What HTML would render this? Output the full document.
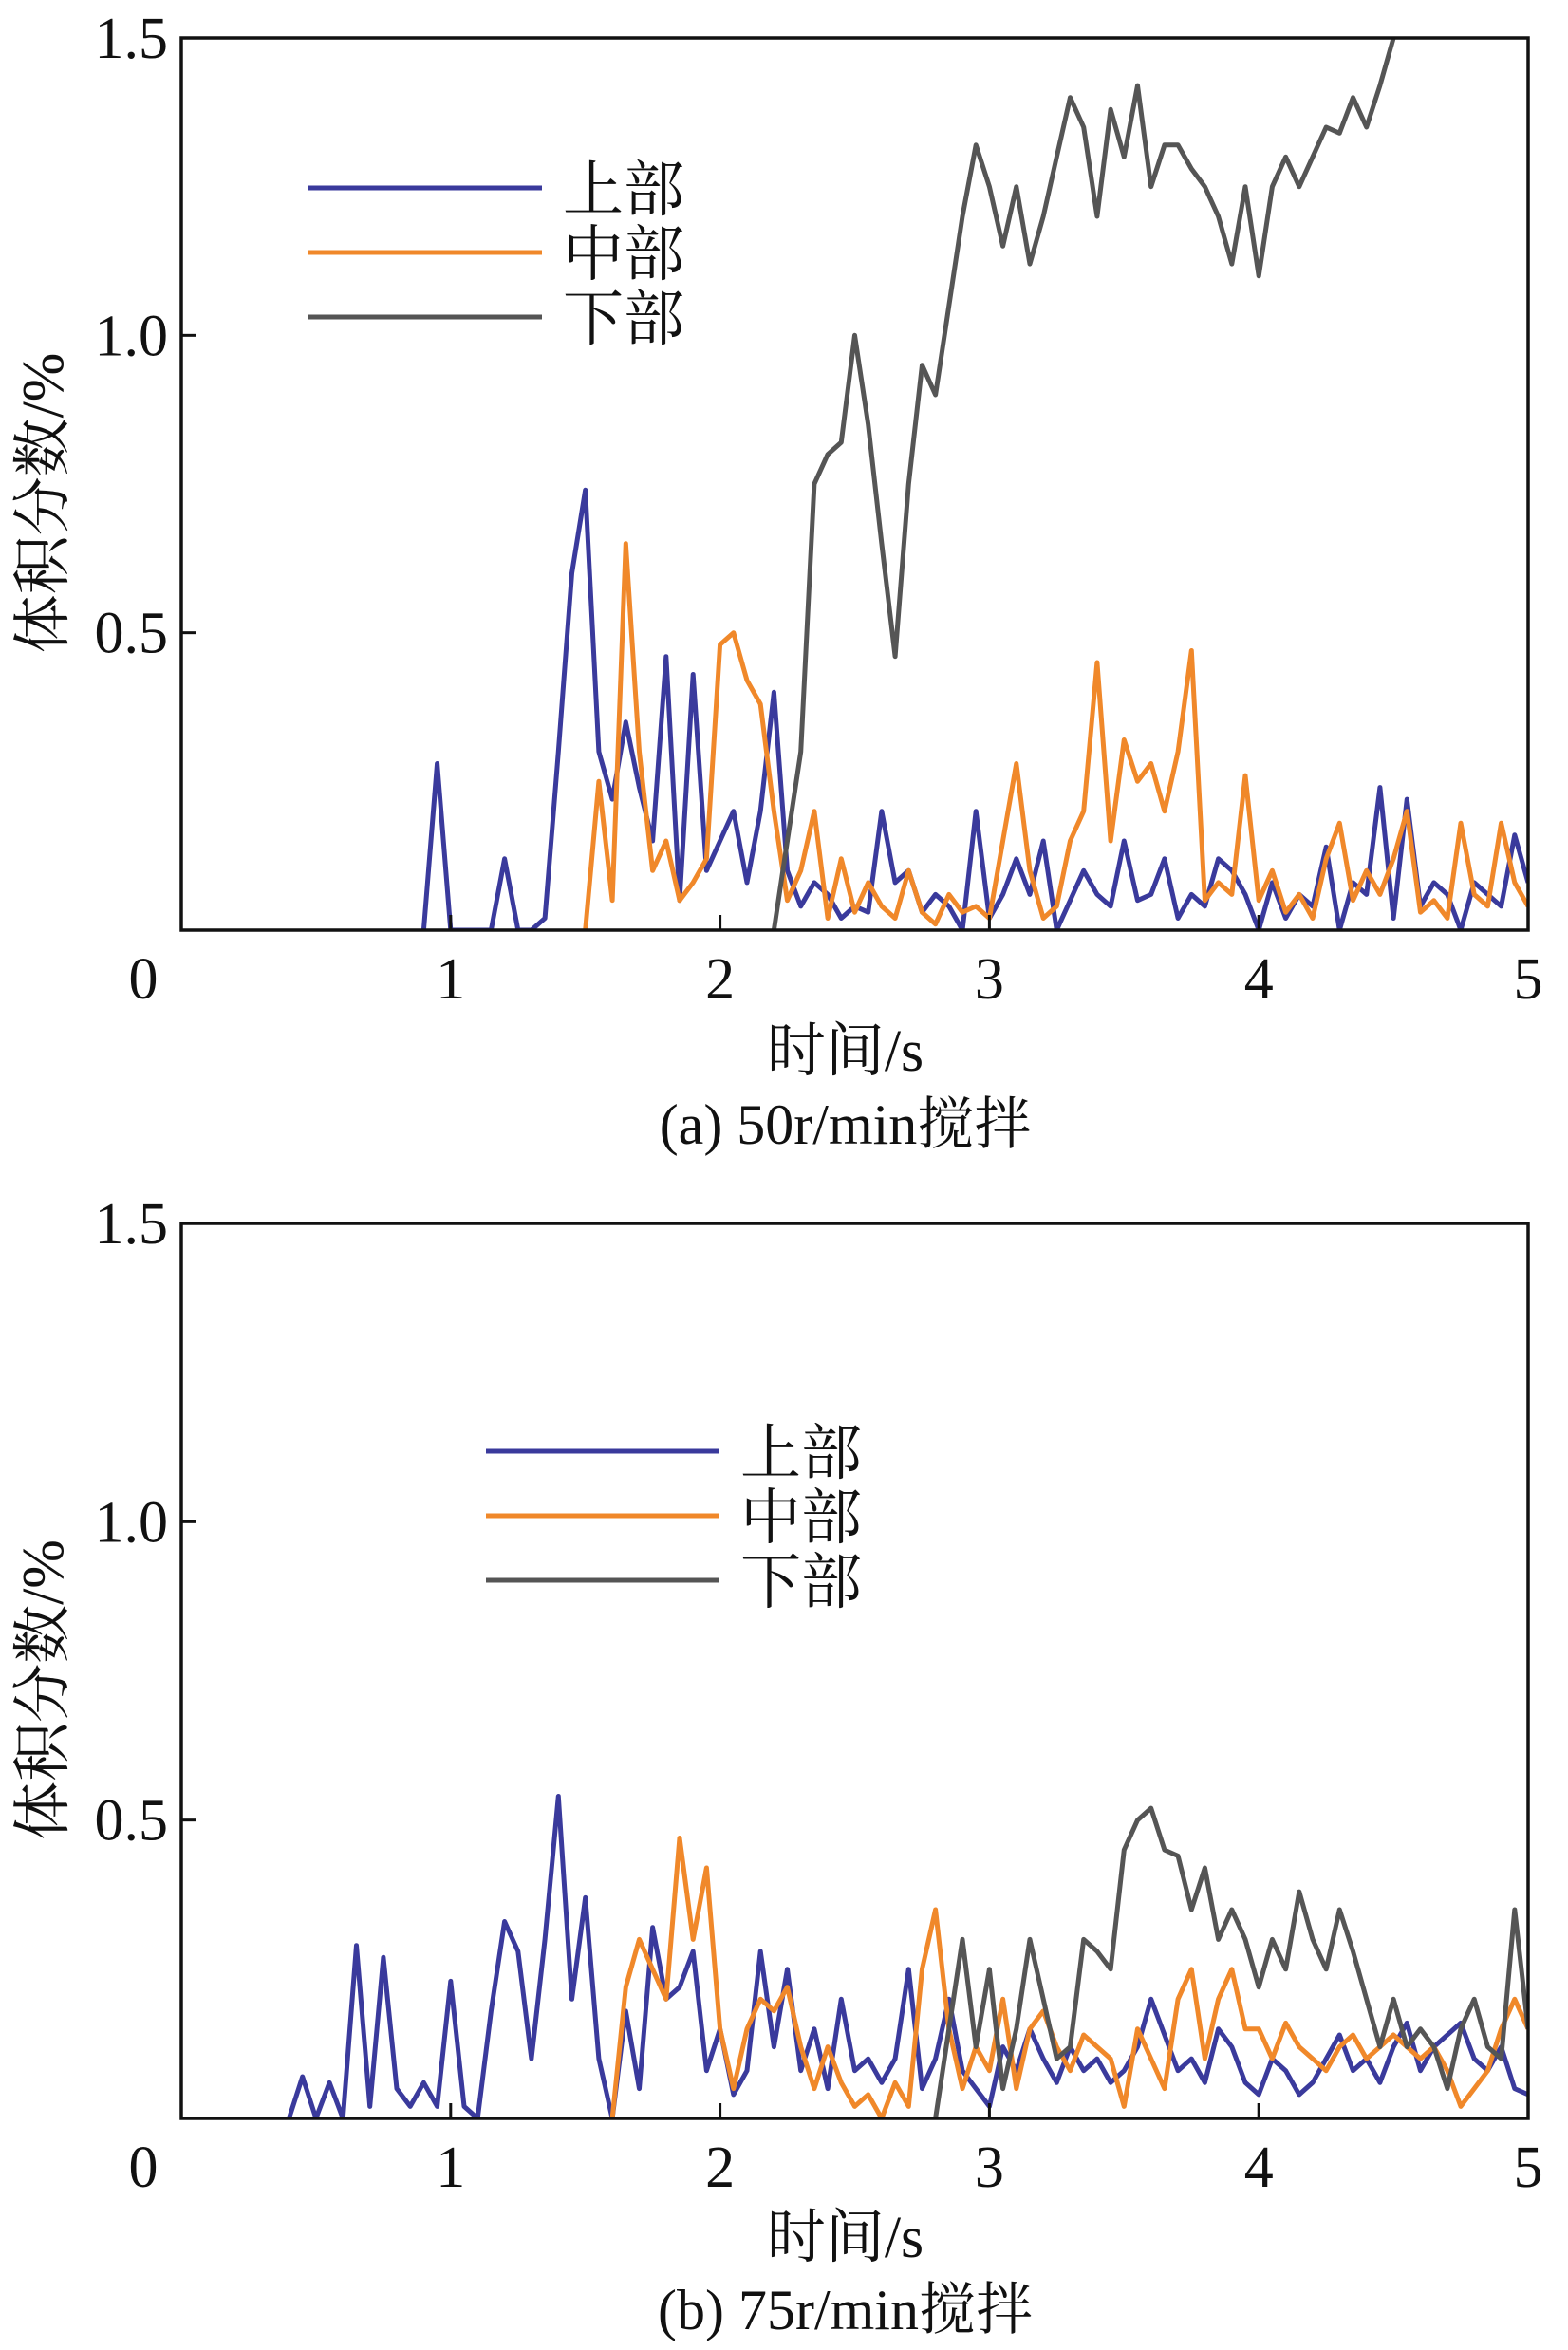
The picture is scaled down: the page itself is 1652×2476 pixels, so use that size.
<!DOCTYPE html>
<html><head><meta charset="utf-8"><style>
html,body{margin:0;padding:0;background:#fff}
svg{display:block}
text{font-family:"Liberation Serif","Noto Serif CJK SC","Noto Sans CJK SC",serif;fill:#111}
</style></head><body>
<svg id="root" width="1652" height="2476" viewBox="0 0 1652 2476"></svg>
<script>
const times = Array.from({length:101},(_,i)=>+(i*0.05).toFixed(2));
const xTicks = [0,1,2,3,4,5];
const xTickLabels = ["0","1","2","3","4","5"];
const yTicks = [0.5,1.0,1.5];
const yTickLabels = ["0.5","1.0","1.5"];
const seriesNames = ["上部","中部","下部"];
function pad(n){return Array(n).fill(null);}
const aUpper = pad(18).concat([0,0.28,0,0,0,0,0.12,0,0,0.02,0.3,0.6,0.74,0.3,0.22,0.35,0.24,0.15,0.46,0.05,0.43,0.1,0.15,0.2,0.08,0.2,0.4,0.1,0.04,0.08,0.06,0.02,0.04,0.03,0.2,0.08,0.1,0.03,0.06,0.04,0,0.2,0.02,0.06,0.12,0.06,0.15,0,0.05,0.1,0.06,0.04,0.15,0.05,0.06,0.12,0.02,0.06,0.04,0.12,0.1,0.06,0,0.08,0.02,0.06,0.04,0.14,0,0.08,0.06,0.24,0.02,0.22,0.04,0.08,0.06,0,0.08,0.06,0.04,0.16,0.08]);
const aMiddle = pad(30).concat([0,0.25,0.05,0.65,0.3,0.1,0.15,0.05,0.08,0.12,0.48,0.5,0.42,0.38,0.2,0.05,0.1,0.2,0.02,0.12,0.03,0.08,0.04,0.02,0.1,0.03,0.01,0.06,0.03,0.04,0.02,0.15,0.28,0.1,0.02,0.04,0.15,0.2,0.45,0.15,0.32,0.25,0.28,0.2,0.3,0.47,0.05,0.08,0.06,0.26,0.05,0.1,0.03,0.06,0.02,0.12,0.18,0.05,0.1,0.06,0.12,0.2,0.03,0.05,0.02,0.18,0.06,0.04,0.18,0.08,0.04]);
const aLower = pad(44).concat([0,0.15,0.3,0.75,0.8,0.82,1.0,0.85,0.65,0.46,0.75,0.95,0.9,1.05,1.2,1.32,1.25,1.15,1.25,1.12,1.2,1.3,1.4,1.35,1.2,1.38,1.3,1.42,1.25,1.32,1.32,1.28,1.25,1.2,1.12,1.25,1.1,1.25,1.3,1.25,1.3,1.35,1.34,1.4,1.35,1.42,1.5,1.55,1.5]).concat(pad(8));
const bUpper = pad(8).concat([0,0.07,0,0.06,0,0.29,0.02,0.27,0.05,0.02,0.06,0.02,0.23,0.02,0,0.18,0.33,0.28,0.1,0.3,0.54,0.2,0.37,0.1,0,0.18,0.05,0.32,0.2,0.22,0.28,0.08,0.15,0.04,0.08,0.28,0.12,0.25,0.08,0.15,0.05,0.2,0.08,0.1,0.06,0.1,0.25,0.05,0.1,0.2,0.08,0.05,0.02,0.12,0.08,0.15,0.1,0.06,0.12,0.08,0.1,0.06,0.08,0.12,0.2,0.14,0.08,0.1,0.06,0.15,0.12,0.06,0.04,0.1,0.08,0.04,0.06,0.1,0.14,0.08,0.1,0.06,0.12,0.16,0.08,0.12,0.14,0.16,0.1,0.08,0.12,0.05,0.04]);
const bMiddle = pad(32).concat([0,0.22,0.3,0.25,0.2,0.47,0.3,0.42,0.15,0.05,0.15,0.2,0.18,0.22,0.12,0.05,0.12,0.06,0.02,0.04,0,0.06,0.02,0.25,0.35,0.15,0.05,0.12,0.08,0.2,0.05,0.15,0.18,0.12,0.08,0.14,0.12,0.1,0.02,0.15,0.1,0.05,0.2,0.25,0.1,0.2,0.25,0.15,0.15,0.1,0.16,0.12,0.1,0.08,0.12,0.14,0.1,0.12,0.14,0.12,0.1,0.12,0.08,0.02,0.05,0.08,0.15,0.2,0.15]);
const bLower = pad(56).concat([0,0.15,0.3,0.12,0.25,0.05,0.15,0.3,0.2,0.1,0.12,0.3,0.28,0.25,0.45,0.5,0.52,0.45,0.44,0.35,0.42,0.3,0.35,0.3,0.22,0.3,0.25,0.38,0.3,0.25,0.35,0.28,0.2,0.12,0.2,0.12,0.15,0.12,0.05,0.15,0.2,0.12,0.1,0.35,0.15]);

const colors=["#3a3a9c","#f0882a","#555555"];
const NS="http://www.w3.org/2000/svg";
const root=document.getElementById('root');
function el(tag,attrs,parent,txt){const e=document.createElementNS(NS,tag);for(const k in attrs)e.setAttribute(k,attrs[k]);if(txt!=null)e.textContent=txt;(parent||root).appendChild(e);return e;}

function chart(cfg,series,id){
  const {L,R,T,B,legX,legY,legT,xTitleY,capY,caption}=cfg;
  const g=el('g',{});
  
  
  const xs=v=>L+(R-L)*v/5, ys=v=>B-(B-T)*v/1.5;
  const cp=el('clipPath',{id:'clip'+id},g);
  el('rect',{x:L,y:T,width:R-L,height:B-T},cp);
  series.forEach((s,si)=>{
    let d='',pen=false;
    s.forEach((v,i)=>{if(v==null){pen=false;return;}d+=(pen?'L':'M')+xs(times[i]).toFixed(1)+' '+ys(v).toFixed(1);pen=true;});
    const p=el('path',{d,fill:'none',stroke:colors[si],'stroke-width':5,'stroke-linejoin':'round','clip-path':'url(#clip'+id+')'},g);
    
    
  });
  const fr=el('rect',{x:L,y:T,width:R-L,height:B-T,fill:'none',stroke:'#111','stroke-width':3.5},g);
  
  
  xTicks.forEach((t,i)=>{
    if(t>0&&t<5) el('line',{x1:xs(t),x2:xs(t),y1:B,y2:B-16,stroke:'#111','stroke-width':3},g);
    const tx=el('text',{x:(t==0?L-40:xs(t)),y:B+72,'font-size':62,'text-anchor':'middle'},g,xTickLabels[i]);
    
    
  });
  yTicks.forEach((t,i)=>{
    if(t<1.5) el('line',{x1:L,x2:L+16,y1:ys(t),y2:ys(t),stroke:'#111','stroke-width':3},g);
    const tx=el('text',{x:L-14,y:ys(t)+21,'font-size':62,'text-anchor':'end'},g,yTickLabels[i]);
    
    
  });
  seriesNames.forEach((n,i)=>{
    const y=legY+i*legT;
    const ln=el('line',{x1:legX,x2:legX+246,y1:y,y2:y,stroke:colors[i],'stroke-width':5},g);
    
    
    const tx=el('text',{x:legX+268,y:y+24,'font-size':64},g,n);
    
    
  });
  const xt=el('text',{x:(L+R)/2-10,y:xTitleY,'font-size':62,'text-anchor':'middle'},g,'时间/s');
  
  
  const cy=(T+B)/2+20;
  const yt=el('text',{x:0,y:0,'font-size':62,'text-anchor':'middle',transform:'translate(66,'+cy+') rotate(-90)'},g,'体积分数/%');
  
  
  const cpn=el('text',{x:(L+R)/2-10,y:capY,'font-size':60,'text-anchor':'middle'},g,caption);
  
  
}
chart({L:191,R:1610,T:40,B:980,legX:325,legY:198,legT:68,xTitleY:1128,capY:1205,caption:'(a) 50r/min搅拌'},[aUpper,aMiddle,aLower],'a');
chart({L:191,R:1610,T:1289,B:2232,legX:512,legY:1529,legT:68,xTitleY:2378,capY:2454,caption:'(b) 75r/min搅拌'},[bUpper,bMiddle,bLower],'b');
</script>
</body></html>
